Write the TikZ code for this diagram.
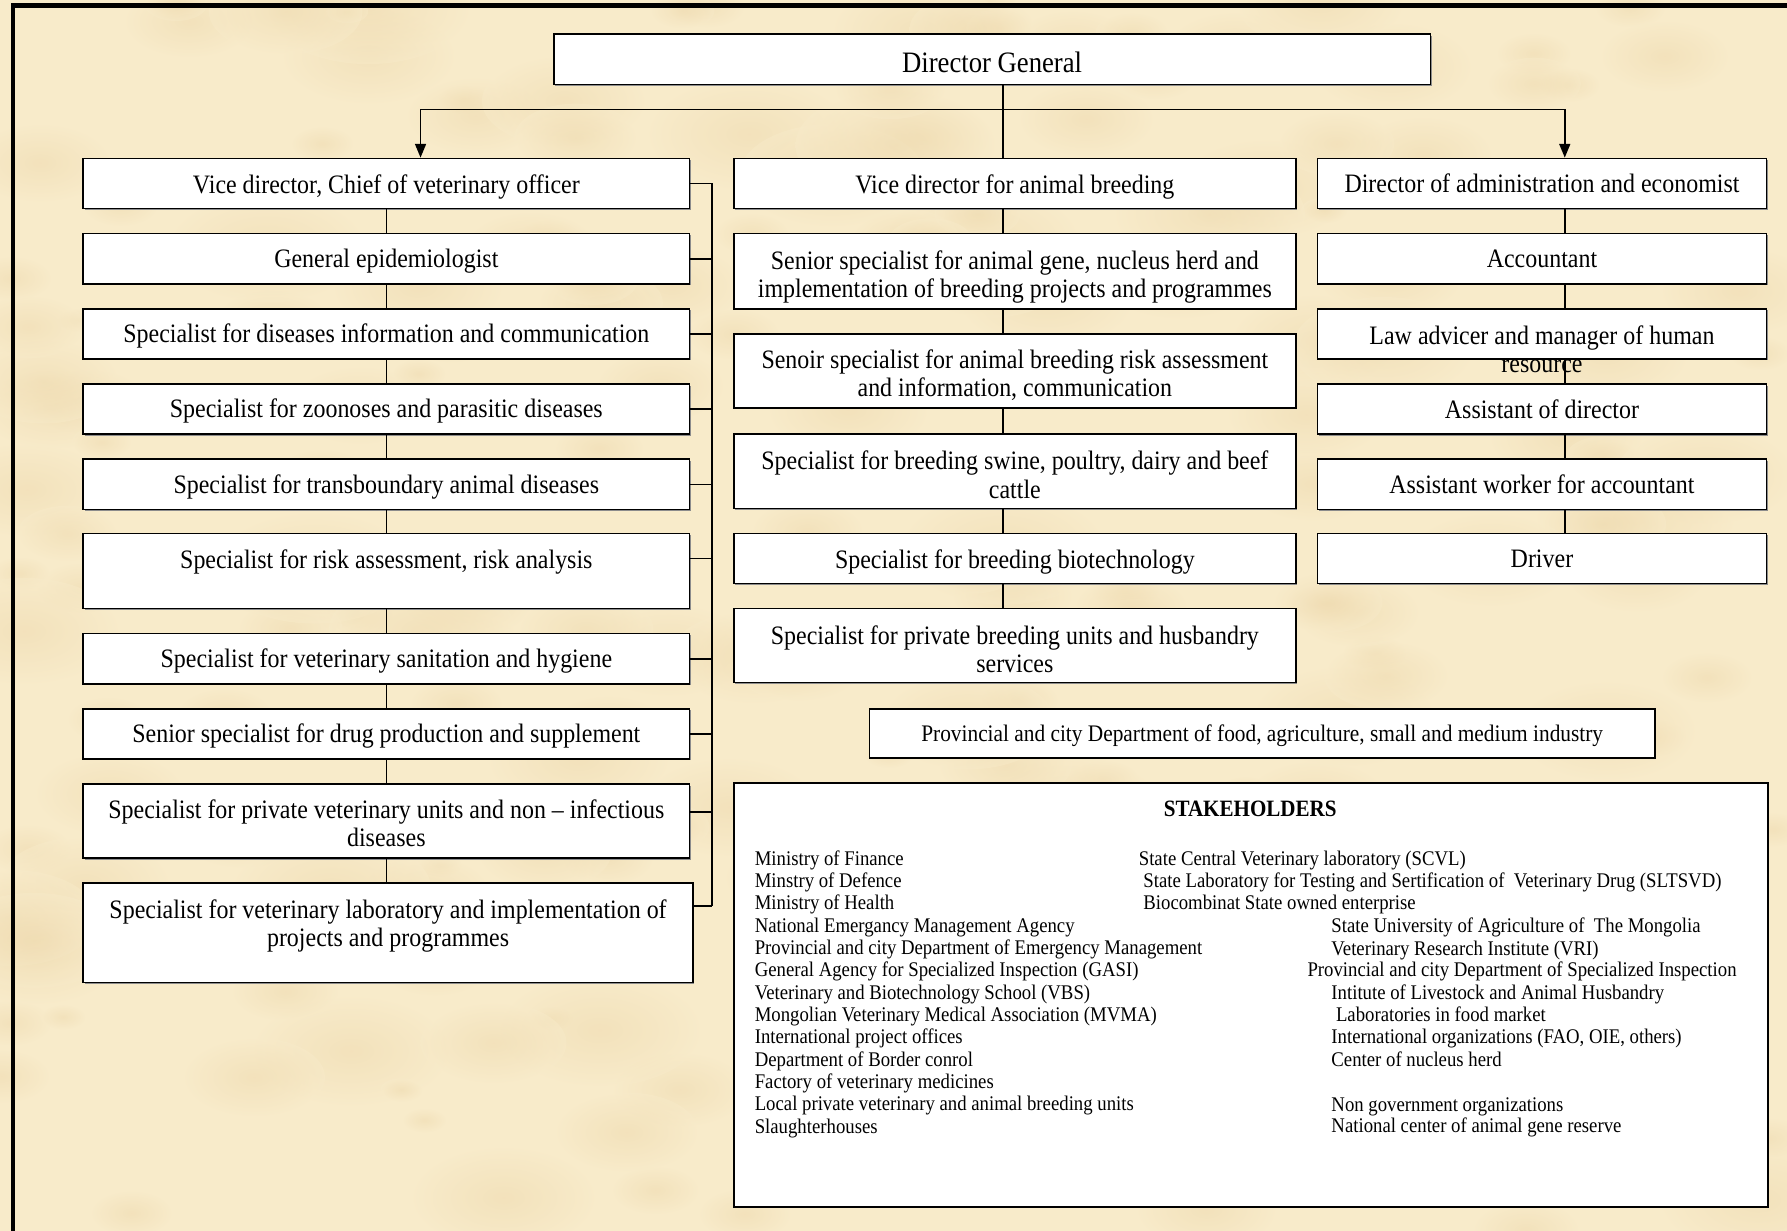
\documentclass[tikz,border=0pt]{standalone}
\usepackage{fontspec}
\setmainfont{Liberation Serif}[FakeStretch=0.9]
\usetikzlibrary{arrows.meta,calc,shadows}
\definecolor{bg}{RGB}{248,235,202}
\definecolor{tan}{RGB}{237,215,170}
\newcommand\fmain{\fontsize{16.6pt}{17.6pt}\selectfont}
\newcommand\fdg{\fontsize{18.5pt}{20pt}\selectfont}
\newcommand\fprov{\fontsize{14.8pt}{16pt}\selectfont}
\newcommand\fstk{\fontsize{13pt}{14pt}\selectfont}
\newcommand\fstkh{\fontsize{14.6pt}{16pt}\selectfont\bfseries}
% box with its text shifted by #4 (picture units, downwards)
\newcommand\bx[5]{\node[#2] (#1) at (#3) {};
  \node[txt] (#1t) at ($(#1)+(0,#4)$) {#5};}
\begin{document}
\begin{tikzpicture}[x=0.025cm,y=-0.025cm,
  box/.style={draw=black, line width=1pt, fill=white, inner sep=0pt,
    drop shadow={shadow xshift=0.9pt, shadow yshift=-0.9pt, opacity=1, fill=black!45}},
  lbox/.style={box, minimum width=13.3cm, minimum height=1.1cm},
  mbox/.style={box, minimum width=12.325cm, minimum height=1.1cm},
  rbox/.style={box, minimum width=9.85cm, minimum height=1.1cm},
  txt/.style={inner sep=0pt, align=center, font=\fmain},
  stk/.style={inner sep=0pt, anchor=base west, font=\fstk},
  conn/.style={line width=1pt, draw=black},
  arr/.style={conn, -{Triangle[length=0.3cm,width=0.24cm]}}]
% background
\useasboundingbox (0,0) rectangle (1568,1080);
\fill[bg] (0,0) rectangle (1568,1080);
\pgfmathsetseed{11}
\foreach \i in {1,...,220}{
  \pgfmathsetmacro\cx{rnd*1568}
  \pgfmathsetmacro\cy{rnd*1080}
  \pgfmathsetmacro\cr{10+rnd*40}
  \shade[inner color=tan, outer color=bg, opacity=0.45] (\cx,\cy) ellipse ({\cr*1.8} and \cr);
}
% frame
\draw[line width=0.1cm, line cap=rect] (11.5,1080) -- (11.5,5) -- (1568,5);

% top
\node[box, minimum width=19.225cm, minimum height=1.1cm] (DG) at (870.5,52) {};
\node[txt, font=\fdg] (DGt) at (870.5,55) {Director General};

% left column
\bx{L1}{lbox}{339,161}{3}{Vice director, Chief of veterinary officer}
\bx{L2}{lbox}{339,227}{2}{General epidemiologist}
\bx{L3}{lbox}{339,293}{2}{Specialist for diseases information and communication}
\bx{L4}{lbox}{339,359}{2}{Specialist for zoonoses and parasitic diseases}
\bx{L5}{lbox}{339,425}{2}{Specialist for transboundary animal diseases}
\bx{L6}{lbox, minimum height=1.65cm}{339,501}{-8}{Specialist for risk assessment, risk analysis}
\bx{L7}{lbox}{339,578}{2}{Specialist for veterinary sanitation and hygiene}
\bx{L8}{lbox}{339,644}{2}{Senior specialist for drug production and supplement}
\bx{L9}{lbox, minimum height=1.625cm}{339,720.5}{2}{Specialist for private veterinary units and non – infectious\\diseases}
\bx{L10}{box, minimum width=13.375cm, minimum height=2.175cm}{340.5,818.5}{-6}{Specialist for veterinary laboratory and implementation of\\projects and programmes}

% middle column
\bx{M1}{mbox}{890.5,161}{3}{Vice director for animal breeding}
\bx{M2}{mbox, minimum height=1.65cm}{890.5,238}{5}{Senior specialist for animal gene, nucleus herd and\\implementation of breeding projects and programmes}
\bx{M3}{mbox, minimum height=1.625cm}{890.5,325.5}{4}{Senoir specialist for animal breeding risk assessment\\and information, communication}
\bx{M4}{mbox, minimum height=1.625cm}{890.5,413.5}{3}{Specialist for breeding swine, poultry, dairy and beef\\cattle}
\bx{M5}{mbox}{890.5,490}{3}{Specialist for breeding biotechnology}
\bx{M6}{mbox, minimum height=1.625cm}{890.5,566.5}{3}{Specialist for private breeding units and husbandry\\services}

% right column
\bx{R1}{rbox}{1353,161}{0}{Director of administration and economist}
\bx{R2}{rbox}{1353,227}{0}{Accountant}
\bx{R3}{rbox}{1353,293}{13.5}{Law advicer and manager of human\\resource}
\bx{R4}{rbox}{1353,359}{0}{Assistant of director}
\bx{R5}{rbox}{1353,425}{0}{Assistant worker for accountant}
\bx{R6}{rbox}{1353,490}{0}{Driver}

% provincial
\node[box, minimum width=17.225cm, minimum height=1.075cm] (P) at (1107.5,643.5) {};
\node[txt, font=\fprov] (Pt) at (1107.5,645.5) {Provincial and city Department of food, agriculture, small and medium industry};

% stakeholders
\node[box, minimum width=22.675cm, minimum height=9.3cm] (S) at (1097.5,873) {};
\node[inner sep=0pt, font=\fstkh] (ST) at (1097,710) {STAKEHOLDERS};
\foreach \t [count=\k] in {Ministry of Finance, Minstry of Defence, Ministry of Health,
  National Emergancy Management Agency, Provincial and city Department of Emergency Management,
  General Agency for Specialized Inspection (GASI), Veterinary and Biotechnology School (VBS),
  Mongolian Veterinary Medical Association (MVMA), International project offices,
  Department of Border conrol, Factory of veterinary medicines,
  Local private veterinary and animal breeding units, Slaughterhouses}{
  \node[stk] (sa\k) at (662,{759+19.6*(\k-1)}) {\t};
}
\node[stk] (sb1) at (999,759) {State Central Veterinary laboratory (SCVL)};
\node[stk] (sb2) at (1003,779) {State Laboratory for Testing and Sertification of \ Veterinary Drug (SLTSVD)};
\node[stk] (sb3) at (1003,798) {Biocombinat State owned enterprise};
\node[stk] (sb4) at (1168,818) {State University of Agriculture of \ The Mongolia};
\node[stk] (sb5) at (1168,838) {Veterinary Research Institute (VRI)};
\node[stk] (sb6) at (1147,857) {Provincial and city Department of Specialized Inspection};
\node[stk] (sb7) at (1168,877) {Intitute of Livestock and Animal Husbandry};
\node[stk] (sb8) at (1172,896) {Laboratories in food market};
\node[stk] (sb9) at (1168,916) {International organizations (FAO, OIE, others)};
\node[stk] (sb10) at (1168,936) {Center of nucleus herd};
\node[stk] (sb11) at (1168,975) {Non government organizations};
\node[stk] (sb12) at (1168,994) {National center of animal gene reserve};

% connectors from the top
\coordinate (j) at (880,96);
\coordinate (hl) at (369,96);
\coordinate (hr) at (1373,96);
\draw[conn] (DG.south -| j) -- (M1.north -| j);
\draw[conn] (hl) -- (hr);
\draw[arr] (hl) -- (hl |- L1.north);
\draw[arr] (hr) -- (hr |- R1.north);

% left chain
\foreach \a/\b in {L1/L2,L2/L3,L3/L4,L4/L5,L5/L6,L6/L7,L7/L8,L8/L9}{
  \draw[conn] (\a.south) -- (\b.north);
}
\draw[conn] (L9.south) -- (L9.south |- L10.north);

% bracket
\coordinate (bt) at (625,161);
\coordinate (bb) at (625,795);
\draw[conn] (bt) -- (bb);
\foreach \a in {L1,L2,L3,L4,L5,L7,L8}{
  \draw[conn] (\a.east) -- (\a.east -| bt);
}
\coordinate (L6s) at ($(L6.east)+(0,-11)$);
\coordinate (L9s) at ($(L9.east)+(0,-8)$);
\coordinate (L10s) at ($(L10.east)+(0,-23.5)$);
\draw[conn] (L6s) -- (L6s -| bt);
\draw[conn] (L9s) -- (L9s -| bt);
\draw[conn] (L10s) -- (L10s -| bt);

% middle chain
\foreach \a/\b in {M1/M2,M2/M3,M3/M4,M4/M5,M5/M6}{
  \draw[conn] (\a.south -| j) -- (\b.north -| j);
}
% right chain
\foreach \a/\b in {R1/R2,R2/R3,R3/R4,R4/R5,R5/R6}{
  \draw[conn] (\a.south -| hr) -- (\b.north -| hr);
}
\end{tikzpicture}
\end{document}
